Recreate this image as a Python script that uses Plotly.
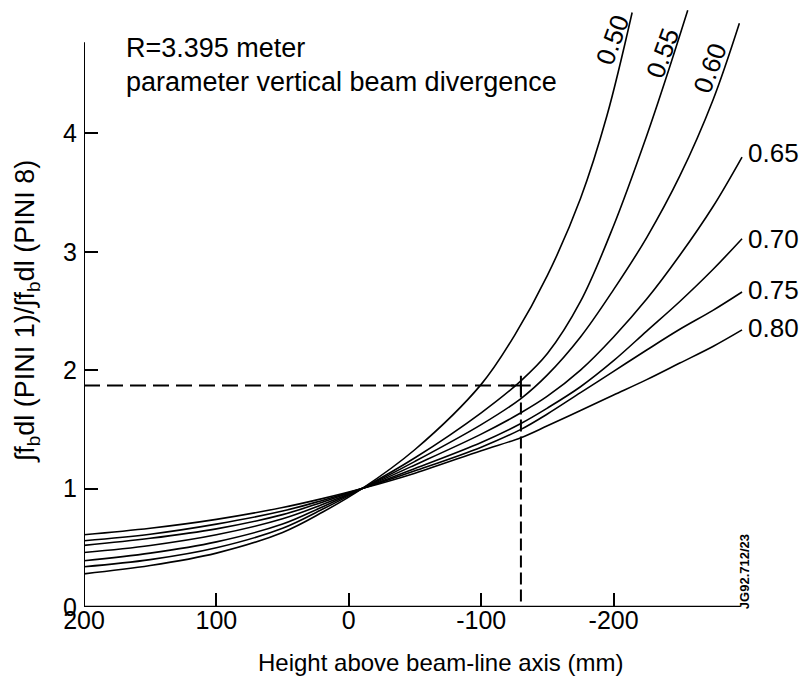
import plotly.graph_objects as go

# Height above beam-line axis (mm) and ratio values for each vertical beam divergence
div_labels = ["0.50", "0.55", "0.60", "0.65", "0.70", "0.75", "0.80"]

x_050 = [200, 150, 100, 50, 20, -10, -50, -100, -125, -150, -175, -195, -214]
y_050 = [0.28, 0.35, 0.455, 0.63, 0.80, 1.0, 1.33, 1.88, 2.29, 2.80, 3.45, 4.15, 5.02]

x_055 = [200, 150, 100, 50, 20, -10, -50, -100, -130, -150, -175, -200, -225, -240, -256]
y_055 = [0.34, 0.40, 0.50, 0.665, 0.825, 1.0, 1.26, 1.64, 1.91, 2.14, 2.58, 3.22, 3.98, 4.48, 5.04]

x_060 = [200, 150, 100, 50, 20, -10, -50, -100, -130, -150, -175, -200, -225, -250, -275, -295]
y_060 = [0.39, 0.455, 0.55, 0.70, 0.845, 1.0, 1.23, 1.54, 1.76, 1.96, 2.28, 2.68, 3.12, 3.64, 4.28, 4.93]

x_065 = [200, 150, 100, 50, 20, -10, -50, -100, -130, -150, -175, -200, -225, -250, -275, -297]
y_065 = [0.46, 0.52, 0.61, 0.745, 0.865, 1.0, 1.20, 1.46, 1.64, 1.78, 2.00, 2.28, 2.60, 2.97, 3.38, 3.80]

x_070 = [200, 150, 100, 50, 20, -10, -50, -100, -130, -150, -175, -200, -225, -250, -275, -297]
y_070 = [0.52, 0.58, 0.66, 0.78, 0.885, 1.0, 1.17, 1.39, 1.55, 1.68, 1.86, 2.08, 2.33, 2.58, 2.85, 3.11]

x_075 = [200, 150, 100, 50, 20, -10, -50, -100, -130, -150, -175, -200, -225, -250, -275, -297]
y_075 = [0.56, 0.615, 0.70, 0.81, 0.90, 1.0, 1.15, 1.35, 1.50, 1.63, 1.81, 1.99, 2.17, 2.345, 2.505, 2.66]

x_080 = [200, 150, 100, 50, 20, -10, -50, -100, -130, -150, -175, -200, -225, -250, -275, -297]
y_080 = [0.61, 0.665, 0.74, 0.84, 0.915, 1.0, 1.13, 1.32, 1.43, 1.53, 1.66, 1.79, 1.92, 2.06, 2.20, 2.34]

# Read-off point (dashed construction)
read_x = -130
read_y = 1.87

x_ticks = [200, 100, 0, -100, -200]
y_ticks = [0, 1, 2, 3, 4]

curves = [(x_050, y_050), (x_055, y_055), (x_060, y_060), (x_065, y_065),
          (x_070, y_070), (x_075, y_075), (x_080, y_080)]

FONT = "Liberation Sans, Arial, Helvetica, sans-serif"

fig = go.Figure()
for (xs, ys), lab in zip(curves, div_labels):
    fig.add_trace(go.Scatter(x=xs, y=ys, mode="lines", name=lab,
                             line=dict(color="black", width=1.6, shape="spline", smoothing=1.0),
                             showlegend=False, cliponaxis=False))

# dashed construction lines
fig.add_trace(go.Scatter(x=[200, read_x], y=[read_y, read_y], mode="lines",
                         line=dict(color="black", width=2, dash="16px,7px"), showlegend=False))
fig.add_trace(go.Scatter(x=[read_x, read_x], y=[read_y, 0], mode="lines",
                         line=dict(color="black", width=2, dash="12px,5px"), showlegend=False))
fig.add_trace(go.Scatter(x=[read_x], y=[read_y], mode="markers",
                         marker=dict(symbol="cross-thin", size=14, line=dict(color="black", width=2)),
                         showlegend=False))

# axis lines
fig.add_shape(type="line", x0=200, x1=-296, y0=0, y1=0, line=dict(color="black", width=2.5))
fig.add_shape(type="line", x0=200, x1=200, y0=0, y1=4.77, line=dict(color="black", width=2))

ann = []
ann.append(dict(x=170, y=4.72, text="R=3.395 meter", showarrow=False, xanchor="left",
                font=dict(family=FONT, size=27, color="black")))
ann.append(dict(x=170, y=4.43, text="parameter vertical beam divergence", showarrow=False,
                xanchor="left", font=dict(family=FONT, size=27, color="black")))
# rotated labels at top
for lab, (lx, ly) in zip(div_labels[:3], [(-199, 4.79), (-237, 4.68), (-273, 4.55)]):
    ann.append(dict(x=lx, y=ly, text=lab, showarrow=False, textangle=-70,
                    font=dict(family=FONT, size=26, color="black")))
for lab, ly in zip(div_labels[3:], [3.83, 3.11, 2.68, 2.36]):
    ann.append(dict(x=-300, y=ly, text=lab, showarrow=False, xanchor="left",
                    font=dict(family=FONT, size=26, color="black")))
ann.append(dict(x=-299, y=0.30, text="<b>JG92.712/23</b>", showarrow=False, textangle=-90,
                font=dict(family=FONT, size=13, color="black")))
# axis titles
ann.append(dict(xref="paper", yref="paper", x=0.538, y=-0.092, xanchor="center", yanchor="middle",
                text="Height above beam-line axis (mm)", showarrow=False,
                font=dict(family=FONT, size=24, color="black")))
ann.append(dict(xref="paper", yref="paper", x=-0.086, y=0.493, xanchor="center", yanchor="middle",
                textangle=-90,
                text="∫f<sub>b</sub>dl (PINI 1)/∫f<sub>b</sub>dl (PINI 8)", showarrow=False,
                font=dict(family=FONT, size=27, color="black")))

fig.update_layout(
    width=803, height=682,
    margin=dict(l=84, r=57, t=9, b=75),
    plot_bgcolor="white", paper_bgcolor="white",
    annotations=ann,
    xaxis=dict(range=[200, -300], showgrid=False, zeroline=False, showline=False,
               tickvals=x_ticks, ticktext=[str(v) for v in x_ticks],
               ticks="inside", ticklen=14, tickwidth=2, tickcolor="black",
               ticklabelstandoff=-4,
               tickfont=dict(family=FONT, size=25, color="black")),
    yaxis=dict(range=[0, 5.05], showgrid=False, zeroline=False, showline=False,
               tickvals=y_ticks, ticktext=[str(v) for v in y_ticks],
               ticks="inside", ticklen=14, tickwidth=2, tickcolor="black",
               ticklabelstandoff=6,
               tickfont=dict(family=FONT, size=25, color="black")),
)

fig.write_html("out.html")
